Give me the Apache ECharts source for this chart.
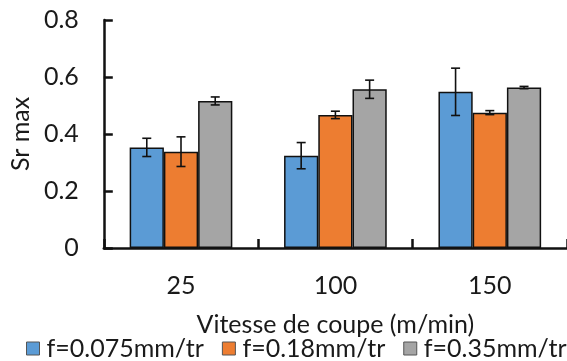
<!DOCTYPE html>
<html><head><meta charset="utf-8">
<script src="https://cdn.jsdelivr.net/npm/echarts@6/dist/echarts.min.js"></script>
<style>html,body{margin:0;padding:0;background:#fff}#c{width:567px;height:361px}</style>
</head><body><div id="c"></div>
<script>
const categories = ['25', '100', '150'];
const seriesNames = ['f=0.075mm/tr', 'f=0.18mm/tr', 'f=0.35mm/tr'];
const valuesF0075 = [0.353, 0.324, 0.548];
const valuesF018 = [0.338, 0.467, 0.475];
const valuesF035 = [0.516, 0.557, 0.563];
const errF0075 = [0.032, 0.046, 0.083];
const errF018 = [0.052, 0.013, 0.007];
const errF035 = [0.014, 0.032, 0.004];
const yTicks = [0, 0.2, 0.4, 0.6, 0.8];

const colors = ['#5B9BD5', '#ED7D31', '#A5A5A5'];
const values = [valuesF0075, valuesF018, valuesF035];
const errs = [errF0075, errF018, errF035];
const FONT = 'Lato';
const FS = 25;
const TXT = '#1a1a1a';
const GAP = 0.335;

const chart = echarts.init(document.getElementById('c'), null, {renderer: 'canvas'});
const series = [];
values.forEach((vals, i) => {
  series.push({
    name: seriesNames[i], type: 'bar', data: vals,
    barGap: '0%', barCategoryGap: (GAP * 100) + '%',
    itemStyle: {color: colors[i], borderColor: '#111', borderWidth: 1.5},
    animation: false
  });
});
values.forEach((vals, i) => {
  series.push({
    type: 'custom', silent: true, animation: false, z: 10,
    data: vals.map((v, k) => [k, v, errs[i][k]]),
    renderItem: function (params, api) {
      const idx = api.value(0), v = api.value(1), e = api.value(2);
      const band = api.size([1, 0])[0];
      const w = band * (1 - GAP) / 3;
      const c = api.coord([idx, v]);
      const x = c[0] + (i - 1) * w;
      const top = api.coord([idx, v + e])[1];
      const bot = api.coord([idx, v - e])[1];
      const cap = 4.5;
      const st = {stroke: '#111', lineWidth: 1.6};
      return {type: 'group', children: [
        {type: 'line', shape: {x1: x, y1: top, x2: x, y2: bot}, style: st},
        {type: 'line', shape: {x1: x - cap, y1: top, x2: x + cap, y2: top}, style: st},
        {type: 'line', shape: {x1: x - cap, y1: bot, x2: x + cap, y2: bot}, style: st}
      ]};
    }
  });
});

chart.setOption({
  animation: false,
  textStyle: {fontFamily: FONT},
  grid: {left: 100, top: 20, width: 474, height: 228, containLabel: false},
  legend: {
    data: seriesNames, left: 26, top: 336, width: 541, icon: 'rect', padding: 0,
    itemWidth: 13, itemHeight: 13, itemGap: 18,
    itemStyle: {borderColor: '#555', borderWidth: 1},
    textStyle: {fontFamily: FONT, fontSize: FS, color: TXT, padding: [0, 0, 0, 2]}
  },
  xAxis: {
    type: 'category', data: categories,
    name: 'Vitesse de coupe (m/min)', nameLocation: 'middle', nameGap: 64,
    nameTextStyle: {fontFamily: FONT, fontSize: FS, color: TXT},
    axisLine: {lineStyle: {color: '#111', width: 2.5}},
    axisTick: {show: true, inside: true, length: 9, lineStyle: {color: '#111', width: 2.5}},
    axisLabel: {fontFamily: FONT, fontSize: FS, color: TXT, margin: 25}
  },
  yAxis: {
    type: 'value', min: 0, max: 0.8, interval: 0.2,
    name: 'Sr max', nameLocation: 'middle', nameGap: 62, nameRotate: 90,
    nameTextStyle: {fontFamily: FONT, fontSize: FS, color: TXT},
    splitLine: {show: false},
    axisLine: {show: true, lineStyle: {color: '#111', width: 2.5}},
    axisTick: {show: true, inside: true, length: 9, lineStyle: {color: '#111', width: 2.5}},
    axisLabel: {fontFamily: FONT, fontSize: FS, color: TXT, margin: 25,
      formatter: v => yTicks.includes(+v.toFixed(1)) ? String(+v.toFixed(1)) : ''}
  },
  series: series
});
</script></body></html>
